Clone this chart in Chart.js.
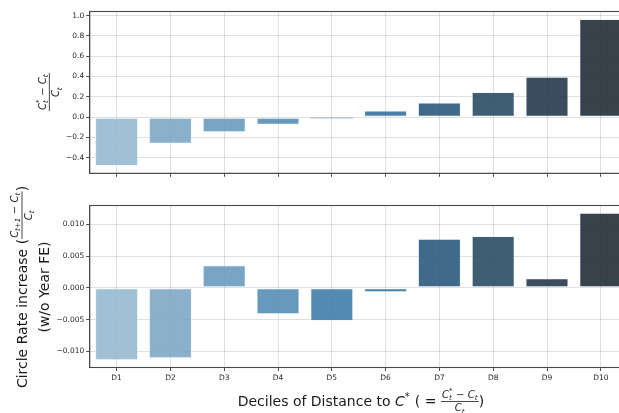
<!DOCTYPE html>
<html>
<head>
<meta charset="utf-8">
<script src="https://cdn.jsdelivr.net/npm/chart.js@4"></script>
<style>
  html, body { margin: 0; padding: 0; background: #fff; overflow: hidden; width: 619px; height: 413px; }
  canvas { position: absolute; left: 0; top: 0; }
</style>
</head>
<body>
<canvas id="top" width="640" height="413"></canvas>
<canvas id="bottom" width="640" height="413"></canvas>
<script>
const categories = ['D1', 'D2', 'D3', 'D4', 'D5', 'D6', 'D7', 'D8', 'D9', 'D10'];
const distanceValues = [-0.480, -0.263, -0.148, -0.076, -0.012, 0.066, 0.145, 0.247, 0.398, 0.967];
const rateIncreaseValues = [-0.01137, -0.01106, 0.00354, -0.00415, -0.00520, -0.00068, 0.00774, 0.00817, 0.00153, 0.01180];
const topYTicks = [-0.4, -0.2, 0.0, 0.2, 0.4, 0.6, 0.8, 1.0];
const bottomYTicks = [-0.010, -0.005, 0.000, 0.005, 0.010];

const barColors = [
  'rgba(149,185,208,0.9)', 'rgba(125,167,197,0.9)', 'rgba(105,155,189,0.9)', 'rgba(86,141,183,0.9)',
  'rgba(63,125,170,0.9)', 'rgba(54,114,160,0.9)', 'rgba(44,90,125,0.9)', 'rgba(42,75,100,0.9)',
  'rgba(37,57,76,0.9)', 'rgba(33,46,55,0.9)'
];

const FAM = '"DejaVu Sans"';
function fnt(sz, it) { return (it ? 'italic ' : '') + sz + 'px ' + FAM; }
function fmt(v, d) { const s = Math.abs(v) < 1e-12 ? (0).toFixed(d) : v.toFixed(d); return s.replace('-', '\u2212'); }

function drawTokens(ctx, toks, x, y, base, draw) {
  let cx = x;
  for (const k of toks) {
    if (k.ss) {
      const s = base * 0.7;
      let w = 0;
      if (k.ss[0]) { ctx.font = fnt(s, false); if (draw) ctx.fillText(k.ss[0], cx, y - base * 0.42); w = Math.max(w, ctx.measureText(k.ss[0]).width); }
      if (k.ss[1]) { ctx.font = fnt(s, true); if (draw) ctx.fillText(k.ss[1], cx, y + base * 0.22); w = Math.max(w, ctx.measureText(k.ss[1]).width); }
      cx += w + base * 0.05;
    } else {
      ctx.font = fnt(base, k.it);
      if (draw) ctx.fillText(k.t, cx, y);
      cx += ctx.measureText(k.t).width;
    }
  }
  return cx - x;
}
function fraction(ctx, num, den, x, y, size, draw) {
  const wn = drawTokens(ctx, num, 0, 0, size, false);
  const wd = drawTokens(ctx, den, 0, 0, size, false);
  const w = Math.max(wn, wd) + 2;
  if (draw) {
    drawTokens(ctx, num, x + (w - wn) / 2, y - size * 0.38, size, true);
    drawTokens(ctx, den, x + (w - wd) / 2, y + size * 1.0, size, true);
    ctx.fillRect(x, y - 0.4, w, 0.8);
  }
  return w;
}
const numCstar = [{t: 'C', it: 1}, {ss: ['*', 't']}, {t: ' \u2212 '}, {t: 'C', it: 1}, {ss: [null, 't']}];
const denC = [{t: 'C', it: 1}, {ss: [null, 't']}];
const numNext = [{t: 'C', it: 1}, {ss: [null, 't+1']}, {t: ' \u2212 '}, {t: 'C', it: 1}, {ss: [null, 't']}];

const framePlugin = {
  id: 'frame',
  afterDatasetsDraw(chart) {
    const a = chart.chartArea, ctx = chart.ctx;
    ctx.save();
    ctx.strokeStyle = '#4a4a4a';
    ctx.lineWidth = 1.1;
    ctx.strokeRect(a.left, a.top, a.right - a.left, a.bottom - a.top);
    ctx.restore();
  }
};

const topLabelPlugin = {
  id: 'topLabel',
  afterDraw(chart) {
    const ctx = chart.ctx;
    ctx.save();
    ctx.fillStyle = '#1a1a1a';
    ctx.textBaseline = 'alphabetic';
    ctx.translate(49.3, 92);
    ctx.rotate(-Math.PI / 2);
    const w = fraction(ctx, numCstar, denC, 0, 0, 10, false);
    fraction(ctx, numCstar, denC, -w / 2, 0, 10, true);
    ctx.restore();
  }
};

const bottomLabelPlugin = {
  id: 'bottomLabel',
  afterDraw(chart) {
    const ctx = chart.ctx;
    ctx.save();
    ctx.fillStyle = '#1a1a1a';
    ctx.textBaseline = 'alphabetic';
    ctx.save();
    ctx.translate(26.5, 287);
    ctx.rotate(-Math.PI / 2);
    const t1 = [{t: 'Circle Rate increase ('}];
    const w1 = drawTokens(ctx, t1, 0, 0, 14, false);
    const wf = fraction(ctx, numNext, denC, 0, 0, 10, false);
    const w2 = drawTokens(ctx, [{t: ')'}], 0, 0, 14, false);
    const total = w1 + wf + w2;
    let x = -total / 2;
    drawTokens(ctx, t1, x, 0, 14, true); x += w1;
    fraction(ctx, numNext, denC, x, -4.5, 10, true); x += wf;
    drawTokens(ctx, [{t: ')'}], x, 0, 14, true);
    ctx.restore();
    ctx.save();
    ctx.translate(48.5, 287);
    ctx.rotate(-Math.PI / 2);
    const l2 = [{t: '(w/o Year FE)'}];
    const wl2 = drawTokens(ctx, l2, 0, 0, 14, false);
    drawTokens(ctx, l2, -wl2 / 2, 0, 14, true);
    ctx.restore();
    const xa = [{t: 'Deciles of Distance to '}, {t: 'C', it: 1}, {ss: ['*', null]}, {t: ' ( = '}];
    const xb = [{t: ')'}];
    const wa = drawTokens(ctx, xa, 0, 0, 14, false);
    const wfr = fraction(ctx, numCstar, denC, 0, 0, 10, false);
    const wb = drawTokens(ctx, xb, 0, 0, 14, false);
    let xx = 361 - (wa + wfr + wb) / 2;
    const base = 406;
    drawTokens(ctx, xa, xx, base, 14, true); xx += wa;
    fraction(ctx, numCstar, denC, xx, base - 4.6, 10, true); xx += wfr;
    drawTokens(ctx, xb, xx, base, 14, true);
    ctx.restore();
  }
};

function makeChart(id, values, yMin, yMax, yTicks, dec, pad, xHeight, showXLabels, extraPlugin) {
  const chart = new Chart(document.getElementById(id), {
    type: 'bar',
    data: {
      labels: categories,
      datasets: [{
        data: values,
        backgroundColor: barColors,
        borderColor: 'rgba(230,238,244,0.45)',
        borderWidth: function (c) {
          const meta = c.chart.getDatasetMeta(0);
          const el = meta && meta.data[c.dataIndex];
          if (el && typeof el.base === 'number' && Math.abs(el.y - el.base) < 3) return 0;
          return 1;
        },
        borderSkipped: false,
        barPercentage: 0.8,
        categoryPercentage: 1.0
      }]
    },
    options: {
      responsive: false,
      devicePixelRatio: 1,
      animation: false,
      events: [],
      layout: { padding: pad },
      plugins: { legend: { display: false }, tooltip: { enabled: false } },
      scales: {
        x: {
          type: 'category',
          offset: true,
          grid: { offset: false, color: 'rgba(0,0,0,0.12)', lineWidth: 1, tickColor: '#4a4a4a', tickLength: 3.5 },
          border: { color: '#4a4a4a', width: 1.1 },
          ticks: {
            callback: function (v, i) { return showXLabels ? categories[i] : ''; },
            font: { size: 7.5, family: 'DejaVu Sans' },
            color: '#262626',
            padding: 2.5,
            maxRotation: 0,
            autoSkip: false
          },
          afterFit: function (s) { s.height = xHeight; }
        },
        y: {
          min: yMin,
          max: yMax,
          afterBuildTicks: function (s) { s.ticks = yTicks.map(v => ({ value: v })); },
          grid: { color: 'rgba(0,0,0,0.12)', lineWidth: 1, tickColor: '#4a4a4a', tickLength: 3.5 },
          border: { color: '#4a4a4a', width: 1.1 },
          ticks: {
            callback: function (v) { return fmt(v, dec); },
            font: { size: 7.5, family: 'DejaVu Sans' },
            color: '#262626',
            padding: 2
          },
          afterFit: function (s) { s.width = 89.7; }
        }
      }
    },
    plugins: [framePlugin, extraPlugin]
  });
  chart.update('none');
  return chart;
}

makeChart('top', distanceValues, -0.553, 1.04, topYTicks, 1,
  { top: 11.5, right: 12.3, bottom: 223, left: 0 }, 16.7, false, topLabelPlugin);
makeChart('bottom', rateIncreaseValues, -0.01252, 0.01295, bottomYTicks, 3,
  { top: 205.5, right: 12.3, bottom: 0, left: 0 }, 45.5, true, bottomLabelPlugin);
</script>
</body>
</html>
